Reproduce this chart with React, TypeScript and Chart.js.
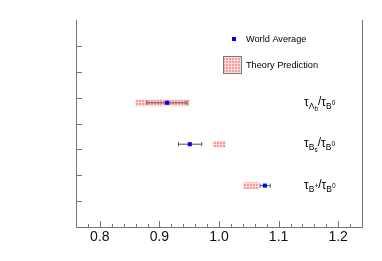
import React, { useEffect, useRef } from "react";
import { Chart, registerables } from "chart.js";
Chart.register(...registerables);

// ---- data ----
const rowPositions = [4.8, 3.2, 1.6];
const worldAverage = [0.913, 0.951, 1.077];
const worldAverageErrLow = [0.034, 0.019, 0.008];
const worldAverageErrHigh = [0.033, 0.02, 0.009];
const theoryLow = [0.86, 0.99, 1.041];
const theoryHigh = [0.95, 1.011, 1.066];
const majorTicks = [0.8, 0.9, 1.0, 1.1, 1.2];
const minorTicks = [0.78, 0.82, 0.84, 0.86, 0.88, 0.92, 0.94, 0.96, 0.98, 1.02, 1.04, 1.06, 1.08, 1.12, 1.14, 1.16, 1.18, 1.22];
const yTicks = [1, 2, 3, 4, 5, 6, 7];
const legendLabels = ["World Average", "Theory Prediction"];
const ratioNumSub = ["Λ", "B", "B"];
const ratioNumSubSub = ["b", "s", ""];
const ratioNumSup = ["", "", "+"];
const ratioDenSub = ["B", "B", "B"];
const ratioDenSup = ["0", "0", "0"];

const FONT = "'Liberation Sans', Arial, Helvetica, sans-serif";

function makePattern(): CanvasPattern | string {
  const c = document.createElement("canvas");
  c.width = 3;
  c.height = 3;
  const g = c.getContext("2d");
  if (!g) return "#f9a0a0";
  g.fillStyle = "#f99a9a";
  g.fillRect(0, 0, 3, 3);
  g.fillStyle = "#ffdcdc";
  g.fillRect(0, 0, 3, 1);
  g.fillRect(0, 0, 1, 3);
  return g.createPattern(c, "repeat") || "#f9a0a0";
}

function drawRatioLabel(ctx: CanvasRenderingContext2D, x: number, y: number, i: number) {
  const parts: [string, number, number][] = [
    ["τ", 12, 0],
    [ratioNumSub[i], 8.5, 3],
    [ratioNumSubSub[i], 6.5, 5],
    [ratioNumSup[i], 6.5, -1],
    ["/", 12, -1],
    ["τ", 12, 0],
    [ratioDenSub[i], 8.5, 3],
    [ratioDenSup[i], 6.5, -1],
  ];
  let cx = x;
  ctx.fillStyle = "#000";
  ctx.textBaseline = "alphabetic";
  ctx.textAlign = "left";
  for (const [t, size, dy] of parts) {
    if (!t) continue;
    ctx.font = `${size}px ${FONT}`;
    ctx.fillText(t, cx, y + dy);
    cx += ctx.measureText(t).width;
  }
}

const decorPlugin = {
  id: "decor",
  afterDraw(chart: any) {
    const { ctx, chartArea: a, scales } = chart;
    const xs = scales.x;
    const ys = scales.y;
    ctx.save();
    ctx.strokeStyle = "#777";
    ctx.lineWidth = 1;
    ctx.beginPath();
    const rx = Math.round(a.right) + 0.5;
    ctx.moveTo(rx, a.top);
    ctx.lineTo(rx, Math.round(a.bottom) + 0.5);
    for (const v of majorTicks) {
      const px = Math.round(xs.getPixelForValue(v)) + 0.5;
      ctx.moveTo(px, a.bottom);
      ctx.lineTo(px, a.bottom - 6);
    }
    for (const v of minorTicks) {
      const px = Math.round(xs.getPixelForValue(v)) + 0.5;
      ctx.moveTo(px, a.bottom);
      ctx.lineTo(px, a.bottom - 3);
    }
    for (const v of yTicks) {
      const py = Math.round(ys.getPixelForValue(v)) + 0.5;
      ctx.moveTo(a.left, py);
      ctx.lineTo(a.left + 6, py);
    }
    ctx.stroke();

    // ratio labels
    rowPositions.forEach((r, i) => {
      drawRatioLabel(ctx, 304, ys.getPixelForValue(r) + 3, i);
    });

    // legend
    ctx.fillStyle = "#0000ff";
    ctx.fillRect(232, 37, 4, 4);
    ctx.fillStyle = chart.$theoryPattern;
    ctx.fillRect(223, 56, 19, 18);
    ctx.strokeStyle = "#777";
    ctx.strokeRect(223.5, 56.5, 18, 17);
    ctx.fillStyle = "#000";
    ctx.font = `9.2px ${FONT}`;
    ctx.textBaseline = "middle";
    ctx.textAlign = "left";
    ctx.fillText(legendLabels[0], 246, 39.5);
    ctx.fillText(legendLabels[1], 246, 65.5);
    ctx.restore();
  },
};

export default function App() {
  const ref = useRef<HTMLCanvasElement>(null);
  useEffect(() => {
    document.body.style.margin = "0";
    if (!ref.current) return;
    const pattern = makePattern();
    const errorSets = rowPositions.map((r, i) => ({
      type: "line" as const,
      data: [
        { x: worldAverage[i] - worldAverageErrLow[i], y: r },
        { x: worldAverage[i] + worldAverageErrHigh[i], y: r },
      ],
      borderColor: "#555",
      borderWidth: 1,
      pointStyle: "line" as const,
      rotation: 90,
      pointRadius: 2,
      pointBorderColor: "#555",
      pointBorderWidth: 1,
      order: 2,
    }));
    const chart = new Chart(ref.current, {
      type: "scatter",
      data: {
        datasets: [
          {
            type: "bar" as const,
            indexAxis: "y",
            data: rowPositions.map((r, i) => ({ x: [theoryLow[i], theoryHigh[i]], y: r })),
            backgroundColor: pattern,
            borderWidth: 0,
            barThickness: 6,
            order: 3,
          } as any,
          ...errorSets,
          {
            type: "scatter" as const,
            data: rowPositions.map((r, i) => ({ x: worldAverage[i], y: r })),
            backgroundColor: "#0000ff",
            borderColor: "#0000ff",
            pointStyle: "rect",
            pointRadius: 2.9,
            borderWidth: 0,
            order: 1,
          },
        ],
      },
      options: {
        responsive: false,
        animation: false,
        devicePixelRatio: 1,
        layout: { padding: { top: 20, right: 20, left: 0, bottom: 0 } },
        plugins: { legend: { display: false }, tooltip: { enabled: false } },
        scales: {
          x: {
            type: "linear",
            min: 0.76,
            max: 1.24,
            offset: false,
            grid: { display: false, drawTicks: false, offset: false },
            border: { display: true, color: "#777", width: 1 },
            afterBuildTicks: (s: any) => {
              s.ticks = majorTicks.map((v) => ({ value: v }));
            },
            afterFit: (s: any) => {
              s.height = 34;
            },
            ticks: {
              padding: 2,
              color: "#111",
              font: { family: FONT, size: 14 },
              callback: (v: any) => Number(v).toFixed(1),
              maxRotation: 0,
              autoSkip: false,
            },
          },
          y: {
            type: "linear",
            min: 0,
            max: 8,
            offset: false,
            grid: { display: false, drawTicks: false, offset: false },
            border: { display: true, color: "#777", width: 1 },
            ticks: { display: false },
            afterFit: (s: any) => {
              s.width = 76;
            },
          },
        },
      },
      plugins: [decorPlugin],
    } as any);
    (chart as any).$theoryPattern = pattern;
    chart.draw();
    return () => chart.destroy();
  }, []);
  return (
    <div style={{ position: "absolute", left: 0, top: 0, width: 382, height: 261 }}>
      <canvas ref={ref} width={382} height={261} style={{ width: 382, height: 261 }} />
    </div>
  );
}
